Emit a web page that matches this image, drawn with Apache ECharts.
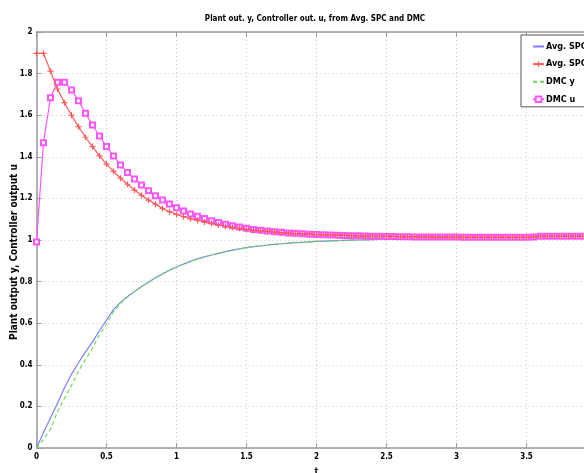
<!DOCTYPE html>
<html>
<head>
<meta charset="utf-8">
<script src="https://cdn.jsdelivr.net/npm/echarts@6/dist/echarts.min.js"></script>
<style>
html,body{margin:0;padding:0;background:#fff;}
#chart{width:584px;height:473px;}
</style>
</head>
<body>
<div id="chart"></div>
<script>
var timeVals = [0,0.05,0.1,0.15,0.2,0.25,0.3,0.35,0.4,0.45,0.5,0.55,0.6,0.65,0.7,0.75,0.8,0.85,0.9,0.95,
1,1.05,1.1,1.15,1.2,1.25,1.3,1.35,1.4,1.45,1.5,1.55,1.6,1.65,1.7,1.75,1.8,1.85,1.9,1.95,
2,2.05,2.1,2.15,2.2,2.25,2.3,2.35,2.4,2.45,2.5,2.55,2.6,2.65,2.7,2.75,2.8,2.85,2.9,2.95,
3,3.05,3.1,3.15,3.2,3.25,3.3,3.35,3.4,3.45,3.5,3.55,3.6,3.65,3.7,3.75,3.8,3.85,3.9,3.95,4];

var spcY = [0,0.075,0.145,0.215,0.29,0.355,0.41,0.462,0.51,0.565,0.615,0.665,0.70,0.728,0.752,0.776,0.797,0.818,0.837,0.855,
0.870,0.884,0.897,0.909,0.919,0.928,0.936,0.944,0.951,0.957,0.963,0.968,0.972,0.976,0.979,0.982,0.985,0.987,0.989,0.991,
0.993,0.995,0.996,0.997,0.998,0.999,1.0,1.001,1.002,1.003,1.004,1.005,1.005,1.006,1.006,1.007,1.007,1.007,1.008,1.008,
1.008,1.008,1.008,1.008,1.008,1.008,1.008,1.008,1.008,1.008,1.008,1.009,1.010,1.010,1.010,1.010,1.010,1.010,1.010,1.010,1.010];

var spcU = [1.897,1.897,1.812,1.726,1.660,1.600,1.545,1.494,1.449,1.404,1.365,1.330,1.297,1.268,1.240,1.215,1.192,1.172,1.152,1.136,
1.123,1.112,1.102,1.094,1.086,1.079,1.072,1.066,1.061,1.056,1.051,1.047,1.044,1.041,1.038,1.035,1.033,1.031,1.029,1.028,
1.026,1.025,1.024,1.023,1.022,1.021,1.020,1.019,1.018,1.018,1.017,1.017,1.016,1.016,1.015,1.015,1.015,1.014,1.014,1.014,
1.014,1.013,1.013,1.013,1.013,1.013,1.013,1.013,1.013,1.013,1.013,1.015,1.018,1.018,1.018,1.018,1.018,1.018,1.018,1.018,1.018];

var dmcY = [0,0.04,0.09,0.175,0.24,0.30,0.37,0.425,0.48,0.545,0.595,0.655,0.695,0.726,0.752,0.776,0.797,0.818,0.837,0.855,
0.870,0.884,0.897,0.909,0.919,0.928,0.936,0.944,0.951,0.957,0.963,0.968,0.972,0.976,0.979,0.982,0.985,0.987,0.989,0.991,
0.993,0.995,0.996,0.997,0.998,0.999,1.0,1.001,1.002,1.003,1.004,1.005,1.005,1.006,1.006,1.007,1.007,1.007,1.008,1.008,
1.008,1.008,1.008,1.008,1.008,1.008,1.008,1.008,1.008,1.008,1.008,1.009,1.010,1.010,1.010,1.010,1.010,1.010,1.010,1.010,1.010];

var dmcU = [0.99,1.468,1.684,1.758,1.758,1.721,1.670,1.609,1.553,1.500,1.449,1.404,1.361,1.325,1.293,1.264,1.237,1.213,1.192,1.173,
1.155,1.139,1.125,1.114,1.103,1.093,1.084,1.076,1.069,1.062,1.056,1.051,1.047,1.043,1.040,1.037,1.034,1.032,1.030,1.028,
1.027,1.025,1.024,1.023,1.022,1.021,1.020,1.019,1.018,1.018,1.017,1.017,1.016,1.016,1.015,1.015,1.015,1.014,1.014,1.014,
1.014,1.013,1.013,1.013,1.013,1.013,1.013,1.013,1.013,1.013,1.013,1.015,1.018,1.018,1.018,1.018,1.018,1.018,1.018,1.018,1.018];

var seriesNames = ['Avg. SPC', 'Avg. SPC ', 'DMC y', 'DMC u'];
var xTicks = [0, 0.5, 1, 1.5, 2, 2.5, 3, 3.5, 4];
var yTicks = [0, 0.2, 0.4, 0.6, 0.8, 1, 1.2, 1.4, 1.6, 1.8, 2];

var titleText = 'Plant out. y, Controller out. u, from Avg. SPC and DMC';
var xName = 't';
var yName = 'Plant output y, Controller output u';

function pairs(vals) {
  return timeVals.map(function (t, i) { return [t, vals[i]]; });
}

var FONT = "'Liberation Sans Narrow', 'DejaVu Sans Condensed', 'DejaVu Sans', sans-serif";
var plusPath = 'path://M4,0H6V4H10V6H6V10H4V6H0V4H4Z';

var chart = echarts.init(document.getElementById('chart'), null, {renderer: 'canvas'});
chart.setOption({
  animation: false,
  backgroundColor: '#ffffff',
  title: {
    text: titleText,
    left: 315,
    top: 15,
    padding: 0,
    textAlign: 'center',
    textStyle: {fontFamily: FONT, fontSize: 8, fontWeight: 'bold', color: '#000'}
  },
  legend: {
    orient: 'vertical',
    left: 521,
    top: 35,
    padding: [7, 40, 3, 11],
    itemWidth: 11,
    itemHeight: 7,
    itemGap: 8.6,
    backgroundColor: '#ffffff',
    borderColor: '#555',
    borderWidth: 1,
    data: [
      {name: seriesNames[0], itemStyle: {opacity: 0}},
      {name: seriesNames[1]},
      {name: seriesNames[2], itemStyle: {opacity: 0}},
      {name: seriesNames[3]}
    ],
    textStyle: {fontFamily: FONT, fontSize: 9, fontWeight: 'bold', color: '#000', padding: [0, 0, 0, -3]}
  },
  grid: {left: 36.5, top: 32, right: -12.5, bottom: 25, containLabel: false, outerBoundsMode: 'none'},
  xAxis: [{
    type: 'value', min: 0, max: 4, interval: 0.5,
    name: xName, nameLocation: 'middle', nameGap: 19, nameMoveOverlap: false,
    nameTextStyle: {fontFamily: FONT, fontSize: 9, fontWeight: 'bold', color: '#000'},
    axisLine: {show: true, onZero: false, lineStyle: {color: '#999', width: 1.5}},
    axisTick: {show: true, inside: true, length: 5, lineStyle: {color: '#999'}},
    axisLabel: {fontFamily: FONT, fontSize: 8, fontWeight: 'bold', color: '#000', margin: 5,
      formatter: function (v) { return xTicks.indexOf(v) >= 0 ? String(v) : ''; }},
    splitLine: {show: true, lineStyle: {color: '#c8c8c8', type: [1, 3], width: 1}}
  }, {
    type: 'value', min: 0, max: 4, interval: 0.5, position: 'top',
    axisLine: {show: true, onZero: false, lineStyle: {color: '#999', width: 1.5}},
    axisTick: {show: true, inside: true, length: 5, lineStyle: {color: '#999'}},
    axisLabel: {show: false},
    splitLine: {show: false}
  }],
  yAxis: {
    type: 'value', min: 0, max: 2, interval: 0.2,
    name: yName, nameLocation: 'middle', nameGap: 17, nameMoveOverlap: false,
    nameTextStyle: {fontFamily: FONT, fontSize: 10, fontWeight: 'bold', color: '#000', padding: [0, 24, 0, 0]},
    axisLine: {show: true, onZero: false, lineStyle: {color: '#999', width: 1.5}},
    axisTick: {show: true, inside: true, length: 5, lineStyle: {color: '#999'}},
    axisLabel: {fontFamily: FONT, fontSize: 8, fontWeight: 'bold', color: '#000', margin: 4,
      formatter: function (v) {
        var r = Math.round(v * 10) / 10;
        return yTicks.indexOf(r) >= 0 ? String(r) : '';
      }},
    splitLine: {show: true, lineStyle: {color: '#c8c8c8', type: [1, 3], width: 1}}
  },
  series: [{
    name: seriesNames[0], type: 'line', data: pairs(spcY),
    showSymbol: false, symbol: 'none',
    lineStyle: {color: '#7f7fff', width: 1.2},
    itemStyle: {color: '#7f7fff'}, z: 2
  }, {
    name: seriesNames[1], type: 'line', data: pairs(spcU),
    symbol: plusPath, symbolSize: 6, showSymbol: true,
    lineStyle: {color: '#ff5a5a', width: 1.2},
    itemStyle: {color: '#ff5a5a'}, z: 4
  }, {
    name: seriesNames[2], type: 'line', data: pairs(dmcY),
    showSymbol: false, symbol: 'none',
    lineStyle: {color: '#66dd55', width: 1.2, type: [4, 3]},
    itemStyle: {color: '#66dd55'}, z: 3
  }, {
    name: seriesNames[3], type: 'line', data: pairs(dmcU),
    symbol: 'emptyRect', symbolSize: 5, showSymbol: true,
    lineStyle: {color: '#ff55ff', width: 1.2},
    itemStyle: {color: '#ff55ff', borderWidth: 1}, z: 3
  }]
});
</script>
</body>
</html>
